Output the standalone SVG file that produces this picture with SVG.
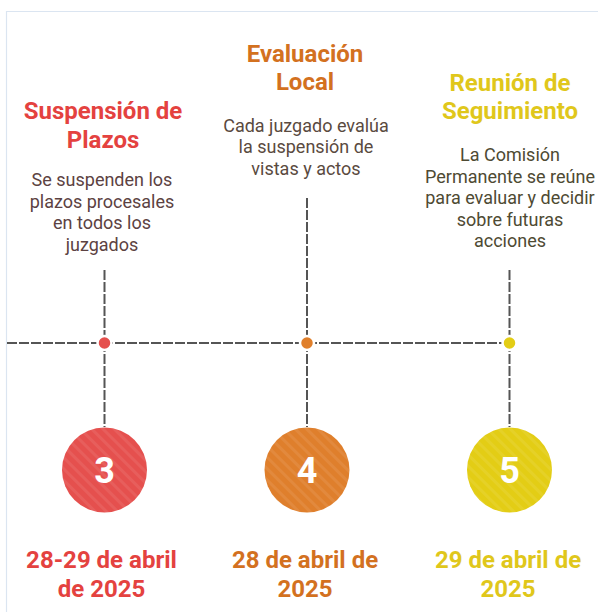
<svg xmlns="http://www.w3.org/2000/svg" width="598" height="612" viewBox="0 0 598 612">
<style>
.title{font-family:Roboto,"Liberation Sans",sans-serif;font-weight:700;font-size:24px;text-anchor:middle}
.desc{font-family:Roboto,"Liberation Sans",sans-serif;font-size:18px;text-anchor:middle}
.date{font-family:Roboto,"Liberation Sans",sans-serif;font-weight:700;font-size:24px;text-anchor:middle}
.num{font-family:Roboto,"Liberation Sans",sans-serif;font-weight:700;font-size:36px;text-anchor:middle;fill:#ffffff}
.line{stroke:#555555;stroke-width:2;stroke-dasharray:10 2;fill:none}
.dot{stroke:#ffffff;stroke-width:2.5}
.red{fill:#e4423f}.orange{fill:#d3711f}.yellow{fill:#e0c71b}
</style>
<defs>
<pattern id="stripes" patternUnits="userSpaceOnUse" width="8" height="8" patternTransform="rotate(-45)">
<rect x="0" y="0" width="3" height="8" fill="#ffffff" fill-opacity="0.08"/>
</pattern>
</defs>
<rect x="0" y="0" width="598" height="612" fill="#ffffff"/>
<path d="M6.5 612 V11.5 H598" fill="none" stroke="#dbe5f1" stroke-width="1.2"/>
<g id="connectors">
<line class="line" x1="7" y1="343" x2="503" y2="343"/>
<line class="line" x1="104.5" y1="270" x2="104.5" y2="427"/>
<line class="line" x1="307" y1="198" x2="307" y2="427"/>
<line class="line" x1="509.5" y1="270" x2="509.5" y2="427"/>
</g>
<g id="step3">
<circle class="dot" cx="104.5" cy="343" r="7" fill="#e5504d"/>
<circle cx="104.5" cy="470" r="42.5" fill="#e5504e"/>
<circle cx="104.5" cy="470" r="42.5" fill="url(#stripes)"/>
<text class="num" x="104.5" y="483">3</text>
<text class="title red" x="103" y="119">Suspensión de</text>
<text class="title red" x="103" y="148">Plazos</text>
<text class="desc" fill="#5c4242" x="102" y="186">Se suspenden los</text>
<text class="desc" fill="#5c4242" x="102" y="207.5">plazos procesales</text>
<text class="desc" fill="#5c4242" x="102" y="229">en todos los</text>
<text class="desc" fill="#5c4242" x="102" y="250.5">juzgados</text>
<text class="date red" x="101.5" y="568">28-29 de abril</text>
<text class="date red" x="101.5" y="597">de 2025</text>
</g>
<g id="step4">
<circle class="dot" cx="307" cy="343" r="7" fill="#e07f2b"/>
<circle cx="307" cy="470" r="42.5" fill="#df7f2c"/>
<circle cx="307" cy="470" r="42.5" fill="url(#stripes)"/>
<text class="num" x="307" y="483">4</text>
<text class="title orange" x="305" y="62">Evaluación</text>
<text class="title orange" x="305" y="90">Local</text>
<text class="desc" fill="#5a4a40" x="306" y="132">Cada juzgado evalúa</text>
<text class="desc" fill="#5a4a40" x="306" y="153">la suspensión de</text>
<text class="desc" fill="#5a4a40" x="306" y="174.5">vistas y actos</text>
<text class="date orange" x="305" y="568">28 de abril de</text>
<text class="date orange" x="305" y="597">2025</text>
</g>
<g id="step5">
<circle class="dot" cx="509.5" cy="343" r="7" fill="#e3cd15"/>
<circle cx="509.5" cy="470" r="42.5" fill="#e3cd15"/>
<circle cx="509.5" cy="470" r="42.5" fill="url(#stripes)"/>
<text class="num" x="509.5" y="483">5</text>
<text class="title yellow" x="510" y="91">Reunión de</text>
<text class="title yellow" x="510" y="119">Seguimiento</text>
<text class="desc" fill="#4e4a33" x="510" y="161">La Comisión</text>
<text class="desc" fill="#4e4a33" x="510" y="182.5">Permanente se reúne</text>
<text class="desc" fill="#4e4a33" x="510" y="204">para evaluar y decidir</text>
<text class="desc" fill="#4e4a33" x="510" y="225.5">sobre futuras</text>
<text class="desc" fill="#4e4a33" x="510" y="247">acciones</text>
<text class="date yellow" x="508" y="568">29 de abril de</text>
<text class="date yellow" x="508" y="597">2025</text>
</g>
</svg>
